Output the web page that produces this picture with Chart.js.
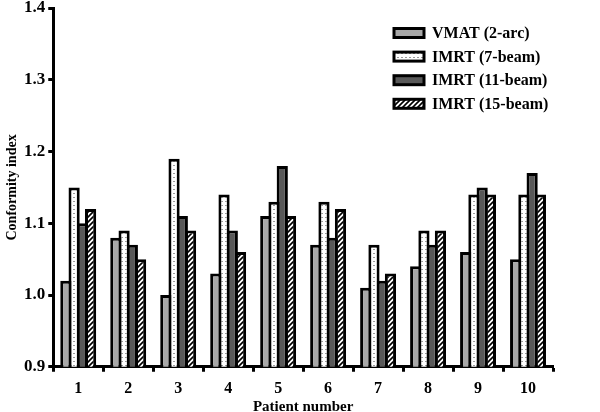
<!DOCTYPE html>
<html>
<head>
<meta charset="utf-8">
<style>
  html, body { margin: 0; padding: 0; background: #fff; }
</style>
<script src="https://cdn.jsdelivr.net/npm/chart.js@4.4.0/dist/chart.umd.min.js"></script>
</head>
<body>
<canvas id="myChart" width="600" height="412"></canvas>
<script>
const patients = ['1', '2', '3', '4', '5', '6', '7', '8', '9', '10'];
const seriesNames = ['VMAT (2-arc)', 'IMRT (7-beam)', 'IMRT (11-beam)', 'IMRT (15-beam)'];
const vmat2 = [1.02, 1.08, 1.00, 1.03, 1.11, 1.07, 1.01, 1.04, 1.06, 1.05];
const imrt7 = [1.15, 1.09, 1.19, 1.14, 1.13, 1.13, 1.07, 1.09, 1.14, 1.14];
const imrt11 = [1.10, 1.07, 1.11, 1.09, 1.18, 1.08, 1.02, 1.07, 1.15, 1.17];
const imrt15 = [1.12, 1.05, 1.09, 1.06, 1.11, 1.12, 1.03, 1.09, 1.14, 1.14];
const yTicks = [0.9, 1.0, 1.1, 1.2, 1.3, 1.4];

const FONT = '"Liberation Serif", "Times New Roman", serif';

// small canvas patterns for the white / hatched bars
function dottedPattern() {
    const c = document.createElement('canvas');
    c.width = 4; c.height = 4;
    const g = c.getContext('2d');
    g.fillStyle = '#fff';
    g.fillRect(0, 0, 4, 4);
    g.fillStyle = '#9a9a9a';
    g.fillRect(1, 1, 2, 1);
    return g.createPattern(c, 'repeat');
}

function hatchPattern() {
    const c = document.createElement('canvas');
    c.width = 5; c.height = 5;
    const g = c.getContext('2d');
    g.fillStyle = '#fff';
    g.fillRect(0, 0, 5, 5);
    g.strokeStyle = '#000';
    g.lineWidth = 1.6;
    g.beginPath();
    g.moveTo(-1, 6); g.lineTo(6, -1);
    g.moveTo(-1, 1); g.lineTo(1, -1);
    g.moveTo(4, 6); g.lineTo(6, 4);
    g.stroke();
    return g.createPattern(c, 'repeat');
}

const fills = ['#a8a8a8', dottedPattern(), '#595959', hatchPattern()];
const values = [vmat2, imrt7, imrt11, imrt15];

const legendBoxes = {
    id: 'legendBoxes',
    afterDraw(chart) {
        const ctx = chart.ctx;
        ctx.save();
        ctx.font = 'bold 16px ' + FONT;
        ctx.textBaseline = 'middle';
        chart.data.datasets.forEach((ds, i) => {
            const y = 33 + i * 23.6;
            ctx.fillStyle = ds.backgroundColor;
            ctx.fillRect(394, y - 4.5, 30, 9);
            ctx.lineWidth = 3;
            ctx.strokeStyle = '#000';
            ctx.strokeRect(394, y - 4.5, 30, 9);
            ctx.fillStyle = '#000';
            ctx.fillText(ds.label, 432, y + 1);
        });
        ctx.restore();
    }
};

const ctx = document.getElementById('myChart').getContext('2d');
const myChart = new Chart(ctx, {
    type: 'bar',
    data: {
        labels: patients,
        datasets: seriesNames.map((name, i) => ({
            label: name,
            data: values[i],
            backgroundColor: fills[i],
            borderColor: '#000',
            borderWidth: 3,
            categoryPercentage: 0.66,
            barPercentage: 1.36
        }))
    },
    options: {
        responsive: false,
        animation: false,
        layout: { padding: { left: 3, right: 47, top: 1, bottom: 4 } },
        plugins: {
            legend: { display: false },
            tooltip: { enabled: false }
        },
        scales: {
            x: {
                z: 1,
                border: { display: true, color: '#000', width: 3 },
                grid: { drawOnChartArea: false, drawTicks: true, tickLength: 5, tickWidth: 3, tickColor: '#000' },
                ticks: { color: '#000', padding: 9, font: { family: FONT, size: 16, weight: 'bold', lineHeight: 1 } },
                title: {
                    display: true, text: 'Patient number', color: '#000',
                    padding: { top: 0, bottom: 0 },
                    font: { family: FONT, size: 15, weight: 'bold', lineHeight: 0.15 }
                }
            },
            y: {
                z: 1,
                min: yTicks[0],
                max: yTicks[yTicks.length - 1],
                border: { display: true, color: '#000', width: 3 },
                grid: { drawOnChartArea: false, drawTicks: true, tickLength: 5, tickWidth: 3, tickColor: '#000' },
                ticks: {
                    stepSize: 0.1, color: '#000', padding: 3,
                    font: { family: FONT, size: 17, weight: 'bold', lineHeight: 0.6 },
                    callback: (v) => v.toFixed(1)
                },
                title: {
                    display: true, text: 'Conformity index', color: '#000',
                    padding: { top: 2, bottom: 2 },
                    font: { family: FONT, size: 14, weight: 'bold', lineHeight: 1 }
                }
            }
        }
    },
    plugins: [legendBoxes]
});
</script>
</body>
</html>
